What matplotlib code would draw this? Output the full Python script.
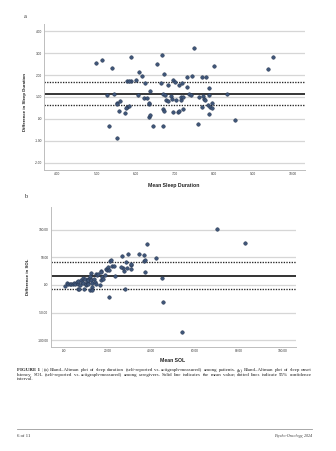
import matplotlib
matplotlib.use("Agg")
import matplotlib.pyplot as plt
from matplotlib.lines import Line2D

# ---------------- data ----------------
# Panel a: sleep duration (patients)
a_mean = [4.98, 5.13, 5.39, 5.27, 5.45, 5.31, 5.53, 5.61, 5.58, 5.53, 5.73, 5.77, 5.82, 5.79, 5.89,
          5.87, 6.02, 6.09, 6.07, 6.17, 6.20, 6.24, 6.28, 6.33, 6.35, 6.37, 6.37, 6.43, 6.54, 6.66,
          6.64, 6.70, 6.71, 6.70, 6.71, 6.70, 6.75, 6.78, 6.82, 6.83, 6.90, 6.93, 6.95, 6.96, 6.99,
          7.02, 7.08, 7.10, 7.11, 7.15, 7.16, 7.17, 7.21, 7.21, 7.31, 7.31, 7.35, 7.40, 7.43, 7.50,
          7.58, 7.61, 7.68, 7.70, 7.72, 7.74, 7.78, 7.79, 7.86, 7.86, 7.85, 7.86, 7.89, 7.94, 7.94,
          7.99, 8.33, 8.54, 9.38, 9.51, 5.84, 5.52, 5.75, 6.34]
a_diff = [2.53, 2.67, 2.32, 1.09, 1.15, -0.33, 0.73, 0.80, 0.35, -0.85, 0.26, 0.55, 0.61, 1.71, 1.71,
          2.82, 1.76, 2.14, 1.08, 1.94, 0.94, 1.64, 0.94, 0.70, 0.09, 0.18, 1.27, -0.33, 2.48, 2.92,
          1.65, 1.15, 2.06, 0.47, 0.38, -0.33, 1.08, 0.88, 0.80, 1.55, 1.06, 0.91, 0.30, 1.77, 1.68,
          0.88, 0.30, 1.53, 0.38, 0.88, 1.00, 1.65, 0.44, 1.00, 1.45, 1.91, 1.15, 1.09, 1.94, 3.21,
          -0.21, 1.00, 0.55, 1.89, 1.06, 0.91, 0.85, 1.91, 1.42, 1.09, 0.64, 0.24, 0.55, 0.71, 0.50,
          2.42, 1.15, -0.03, 2.29, 2.82, 1.72, 0.70, 0.51, 0.71]
a_center, a_upper, a_lower = 1.15, 1.66, 0.65
a_xticks = [4, 5, 6, 7, 8, 9, 10]
a_xlabels = ["4.00", "5.00", "6.00", "7.00", "8.00", "9.00", "10.00"]
a_yticks = [4, 3, 2, 1, 0, -1, -2]
a_ylabels = ["4.00", "3.00", "2.00", "1.00", ".00", "-1.00", "-2.00"]

# Panel b: sleep onset latency (caregivers)
b_mean = [0.5, 1.5, 2.1, 2.9, 3.5, 4.3, 4.9, 5.5, 6.2, 6.5, 6.7, 7.0, 6.7, 7.6, 8.1, 8.4, 8.7, 9.1,
          9.4, 9.9, 10.2, 10.5, 10.8, 11.1, 11.0, 11.4, 11.4, 11.9, 11.9, 12.2, 12.5, 12.6, 12.8, 12.9,
          13.2, 13.8, 14.6, 15.0, 14.9, 15.2, 15.8, 16.6, 17.0, 17.2, 17.6, 17.9, 17.3, 19.0, 19.5,
          19.8, 20.2, 20.7, 21.0, 21.7, 22.3, 23.1, 23.7, 20.8, 26.9, 27.7, 28.0, 27.1, 26.1, 29.3,
          28.4, 28.9, 30.7, 30.9, 31.0, 34.3, 36.8, 36.9, 37.4, 37.1, 38.3, 42.2, 45.0, 45.6, 54.0,
          69.9, 82.8]
b_diff = [-1.2, 3.6, 1.2, 1.2, 1.2, 2.4, 3.0, 1.2, 5.4, 1.2, -6.6, -6.6, 7.2, 0.6, 9.0, 5.4, 13.2, 3.0,
          -7.8, 10.2, 0.0, 1.8, 6.0, 4.2, 10.2, 9.0, 1.2, 13.2, -8.4, 16.9, 9.0, 22.3, -3.0, -9.0,
          3.0, 10.2, 6.0, 19.3, 1.2, 17.5, 20.5, 0.0, 25.3, 9.0, 15.1, 10.2, 24.1, 17.5, 28.3,
          27.1, 31.9, 26.5, 42.7, 45.2, 33.7, 34.3, 16.9, -21.1, 52.4, 25.3, -7.2, 30.7, 32.5, 56.6,
          40.9, 30.1, 35.5, 28.9, 38.5, 55.4, 54.8, 43.9, 45.2, 23.5, 73.4, 48.8, 12.0, -30.7, -85.5,
          100.5, 75.9]
b_center, b_upper, b_lower = 16.3, 41.5, -7.8
b_xticks = [0, 20, 40, 60, 80, 100]
b_xlabels = [".00", "20.00", "40.00", "60.00", "80.00", "100.00"]
b_yticks = [100, 50, 0, -50, -100]
b_ylabels = ["100.00", "50.00", ".00", "-50.00", "-100.00"]

caption_lines = [
    "FIGURE 1 | (a) Bland–Altman plot of sleep duration (self-reported vs. actigraph-measured) among patients. (b) Bland–Altman plot of sleep onset",
    "latency, SOL (self-reported vs. actigraph-measured) among caregivers. Solid line indicates the mean value; dotted lines indicate 95% confidence",
    "interval.",
]

# ---------------- figure ----------------
W, H = 336, 451
fig = plt.figure(figsize=(W / 100, H / 100), dpi=100)
fig.patch.set_facecolor("white")
SANS = ["Liberation Sans", "DejaVu Sans"]
SERIF = ["Liberation Serif", "DejaVu Serif"]


def rect(l, r, t, b):
    return [l / W, 1 - b / H, (r - l) / W, (b - t) / H]


def fx(x):
    return x / W


def fy(y):
    return 1 - y / H


def panel(ax, x, y, center, upper, lower, xt, xl, yt, yl, xlim, ylim, mean_lw, mean_col):
    ax.set_xlim(*xlim)
    ax.set_ylim(*ylim)
    for v in yt:
        ax.axhline(v, color="#d6d6d6", lw=0.9, zorder=0)
    ax.axhline(upper, color="#222222", lw=0.95, ls=(0, (1, 1)), zorder=1)
    ax.axhline(lower, color="#222222", lw=0.95, ls=(0, (1, 1)), zorder=1)
    ax.axhline(center, color=mean_col, lw=mean_lw, zorder=1)
    ax.scatter(x, y, s=6.5, c="#3f5679", edgecolors="#26354f", linewidths=0.35, zorder=3)
    ax.set_xticks(xt)
    ax.set_xticklabels(xl)
    ax.set_yticks(yt)
    ax.set_yticklabels(yl)
    ax.tick_params(length=0, labelsize=2.3, colors="#333333", pad=1.6)
    for lab in ax.get_xticklabels() + ax.get_yticklabels():
        lab.set_family(SANS)
    for s in ["top", "right"]:
        ax.spines[s].set_visible(False)
    for s in ["left", "bottom"]:
        ax.spines[s].set_color("#bdbdbd")
        ax.spines[s].set_linewidth(0.7)
    ax.set_facecolor("white")


ax1 = fig.add_axes(rect(44, 305, 24, 170))
panel(ax1, a_mean, a_diff, a_center, a_upper, a_lower, a_xticks, a_xlabels, a_yticks, a_ylabels,
      (3.66, 10.32), (-2.32, 4.32), 1.1, "black")

ax2 = fig.add_axes(rect(50.7, 296, 207, 346.7))
panel(ax2, b_mean, b_diff, b_center, b_upper, b_lower, b_xticks, b_xlabels, b_yticks, b_ylabels,
      (-5.8, 106), (-111.6, 141), 1.4, "#333333")

# axis labels
fig.text(fx(174), fy(185), "Mean Sleep Duration", ha="center", va="center", fontsize=3.7,
         family=SANS, color="#222222", fontweight="bold")
fig.text(fx(25.5), fy(102), "Difference in Sleep Duration", ha="center", va="center", fontsize=3.2,
         family=SANS, color="#222222", rotation=90, fontweight="bold")
fig.text(fx(173), fy(360), "Mean SOL", ha="center", va="center", fontsize=3.7,
         family=SANS, color="#222222", fontweight="bold")
fig.text(fx(28), fy(277), "Difference in SOL", ha="center", va="center", fontsize=3.2,
         family=SANS, color="#222222", rotation=90, fontweight="bold")

# panel letters
fig.text(fx(23.5), fy(17), "a", ha="left", va="center", fontsize=4.6, family=SERIF, color="#333333")
fig.text(fx(24), fy(197), "b", ha="left", va="center", fontsize=4.6, family=SERIF, color="#333333")

# caption, justified
renderer = fig.canvas.get_renderer()
X0, X1 = 17, 312
cap_base = [370.6, 375.6, 380.5]


def width_of(s, fs, weight="normal"):
    t = fig.text(0, 0, s, fontsize=fs, family=SERIF, fontweight=weight)
    w = t.get_window_extent(renderer).width
    t.remove()
    return w


# choose font size so that the second line nearly fills the column width
ref_w = width_of(caption_lines[1], 10.0)
CAP_FS = 10.0 * (X1 - X0) * 0.985 / ref_w


def place_line(text, ypix, justify):
    words = text.split(" ")
    if words[0] == "FIGURE":
        tokens = [("FIGURE 1", "bold", "#222222"), ("|", "normal", "#888888")] + [
            (w, "normal", "#222222") for w in words[3:]]
    else:
        tokens = [(w, "normal", "#222222") for w in words]
    objs = []
    widths = []
    for w, weight, col in tokens:
        t = fig.text(0, fy(ypix), w, ha="left", va="baseline", fontsize=CAP_FS, family=SERIF,
                     fontweight=weight, color=col)
        objs.append(t)
        widths.append(t.get_window_extent(renderer).width)
    total = sum(widths)
    sw = width_of("a a", CAP_FS) - 2 * width_of("a", CAP_FS)
    if justify and len(tokens) > 1:
        gap = ((X1 - X0) - total) / (len(tokens) - 1)
    else:
        gap = sw
    x = X0
    for t, wd in zip(objs, widths):
        t.set_x(fx(x))
        x += wd + gap


place_line(caption_lines[0], cap_base[0], True)
place_line(caption_lines[1], cap_base[1], True)
place_line(caption_lines[2], cap_base[2], False)

# footer
fig.add_artist(Line2D([fx(17), fx(312)], [fy(429), fy(429)], color="#9a9a9a", lw=0.6))
fig.text(fx(17), fy(436), "6 of 11", ha="left", va="center", fontsize=3.4, family=SERIF, color="#333333")
fig.text(fx(312), fy(436), "Psycho-Oncology, 2024", ha="right", va="center", fontsize=2.9,
         family=SERIF, style="italic", color="#333333")

fig.savefig("out.png", dpi=100, facecolor="white")
